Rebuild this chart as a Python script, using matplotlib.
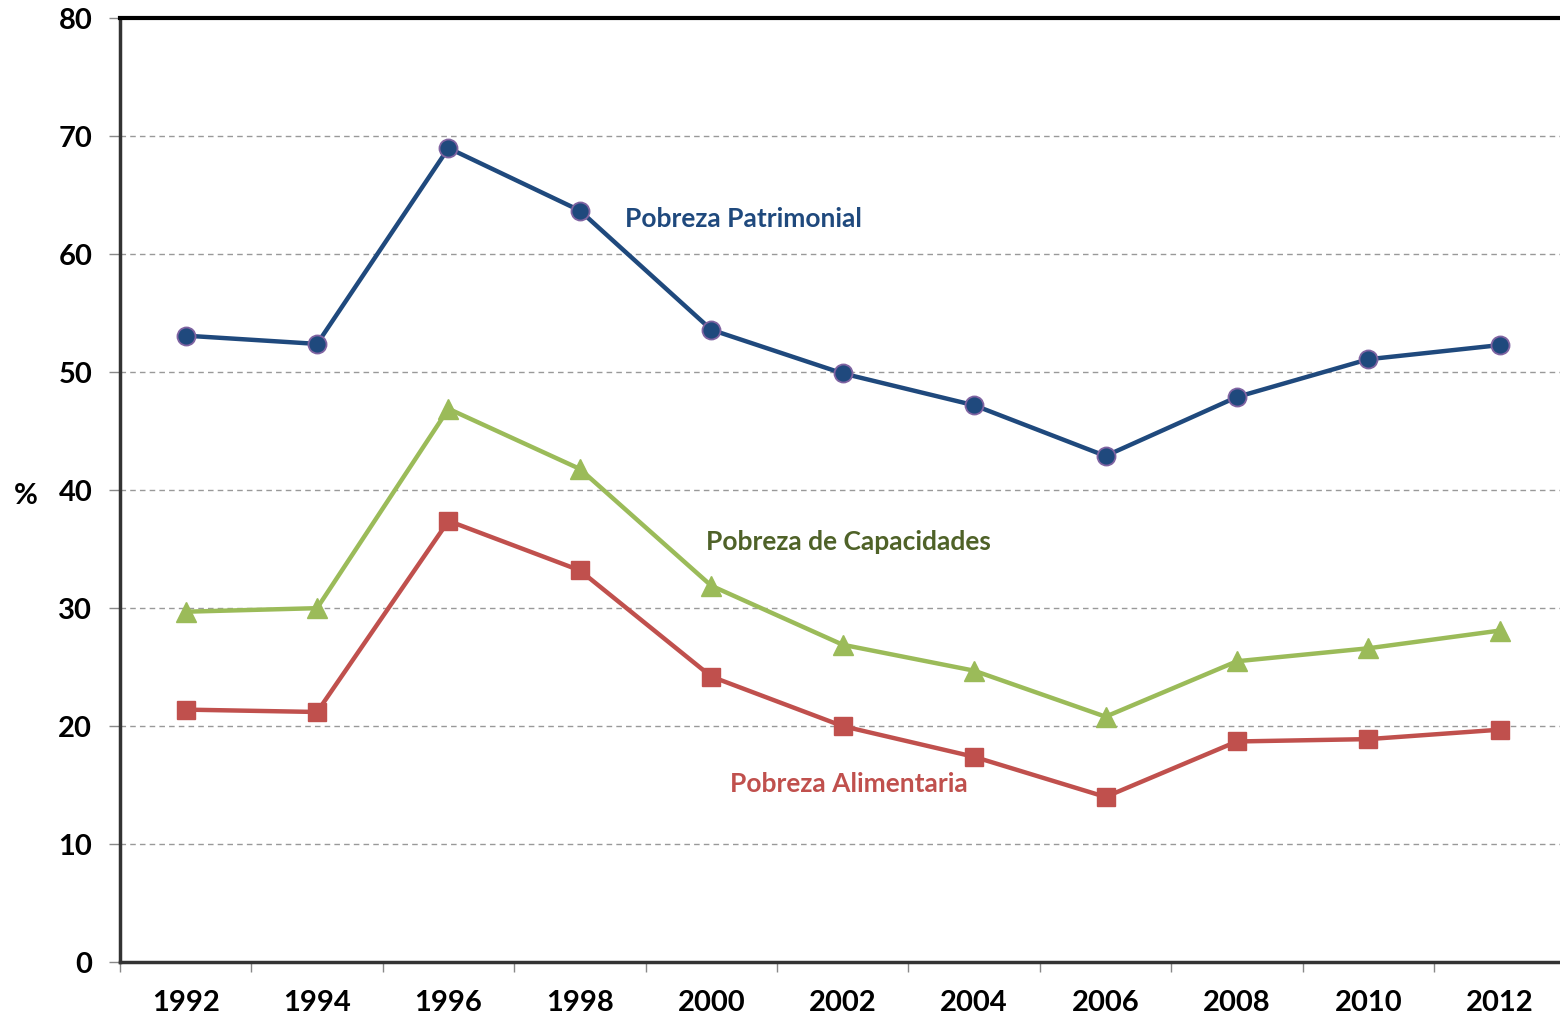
import numpy as np
import matplotlib.pyplot as plt

years = ['1992', '1994', '1996', '1998', '2000', '2002', '2004', '2006', '2008', '2010', '2012']
patrimonial = [53.1, 52.4, 69.0, 63.7, 53.6, 49.9, 47.2, 42.9, 47.9, 51.1, 52.3]
capacidades = [29.7, 30.0, 46.9, 41.8, 31.9, 26.9, 24.7, 20.8, 25.5, 26.6, 28.1]
alimentaria = [21.4, 21.2, 37.4, 33.2, 24.2, 20.0, 17.4, 14.0, 18.7, 18.9, 19.7]

plt.rcParams['font.family'] = ['Lato', 'DejaVu Sans']
plt.rcParams['font.weight'] = 'bold'

fig = plt.figure(figsize=(15.6, 10.17), dpi=100)
ax = fig.add_axes([0.0769, 0.054, 0.9266, 0.928])

x = np.arange(len(years))
ax.plot(x, patrimonial, color='#1F497D', lw=3.2, marker='o', ms=13,
        mfc='#1F497D', mec='#8064A2', mew=1.3, zorder=3)
ax.plot(x, capacidades, color='#9BBB59', lw=3.2, marker='^', ms=14,
        mfc='#9BBB59', mec='#9BBB59', zorder=3)
ax.plot(x, alimentaria, color='#C0504D', lw=3.2, marker='s', ms=12.5,
        mfc='#C0504D', mec='#C0504D', zorder=3)

ax.text(3.34, 63.0, 'Pobreza Patrimonial', color='#1F497D', fontsize=19,
        fontweight='bold', va='center', ha='left')
ax.text(3.96, 35.6, 'Pobreza de Capacidades', color='#4F6228', fontsize=19,
        fontweight='bold', va='center', ha='left')
ax.text(4.14, 15.1, 'Pobreza Alimentaria', color='#C0504D', fontsize=19,
        fontweight='bold', va='center', ha='left')

ax.set_xlim(-0.5, 10.5)
ax.set_ylim(0, 80)
ax.set_yticks(np.arange(0, 81, 10))
ax.set_xticks(x)
ax.set_xticklabels(years)
ax.set_xticks(np.arange(-0.5, 10.6, 1), minor=True)
ax.tick_params(axis='x', which='major', length=0, pad=20, labelsize=21)
ax.tick_params(axis='x', which='minor', length=7, width=1, color='#888888', direction='out')
ax.tick_params(axis='y', length=8, width=1, color='#888888', labelsize=21, pad=12)
for lab in ax.get_xticklabels() + ax.get_yticklabels():
    lab.set_fontweight('bold')

ax.yaxis.grid(True, ls=(0, (4, 3)), color='#999999', lw=1)
ax.set_axisbelow(True)

for side in ['left', 'bottom']:
    ax.spines[side].set_linewidth(2.5)
    ax.spines[side].set_color('#333333')
ax.spines['top'].set_linewidth(3)
ax.spines['top'].set_color('black')
ax.spines['right'].set_visible(False)

ax.set_ylabel('%', rotation=0, fontsize=21, fontweight='bold')
ax.yaxis.set_label_coords(-0.065, 0.48)

fig.savefig('out.png', dpi=100)
